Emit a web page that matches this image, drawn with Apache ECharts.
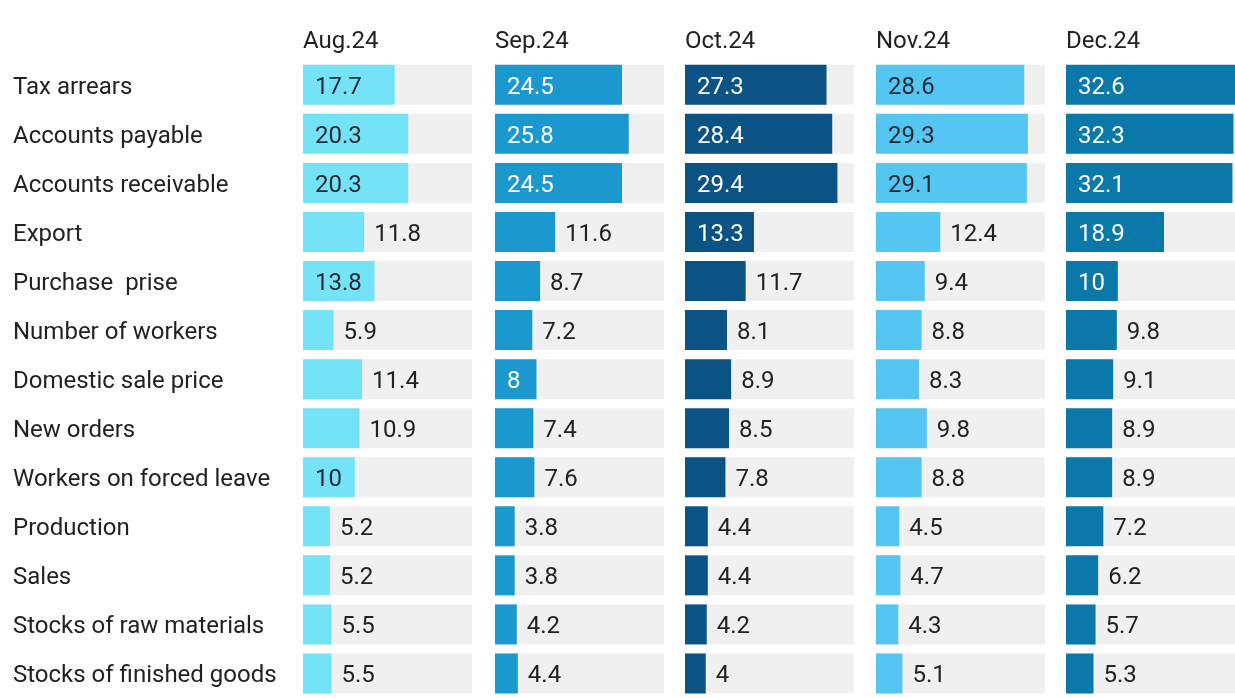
<!DOCTYPE html>
<html>
<head>
<meta charset="utf-8">
<script src="https://cdn.jsdelivr.net/npm/echarts@6/dist/echarts.min.js"></script>
<style>
  html, body { margin: 0; padding: 0; background: #fff; }
  #chart { width: 1235px; height: 698px; }
</style>
</head>
<body>
<div id="chart"></div>
<script>
  const categories = ['Tax arrears','Accounts payable','Accounts receivable','Export','Purchase  prise',
    'Number of workers','Domestic sale price','New orders','Workers on forced leave','Production',
    'Sales','Stocks of raw materials','Stocks of finished goods'];
  const months = ['Aug.24','Sep.24','Oct.24','Nov.24','Dec.24'];
  const aug = [17.7, 20.3, 20.3, 11.8, 13.8, 5.9, 11.4, 10.9, 10, 5.2, 5.2, 5.5, 5.5];
  const sep = [24.5, 25.8, 24.5, 11.6, 8.7, 7.2, 8, 7.4, 7.6, 3.8, 3.8, 4.2, 4.4];
  const oct = [27.3, 28.4, 29.4, 13.3, 11.7, 8.1, 8.9, 8.5, 7.8, 4.4, 4.4, 4.2, 4];
  const nov = [28.6, 29.3, 29.1, 12.4, 9.4, 8.8, 8.3, 9.8, 8.8, 4.5, 4.7, 4.3, 5.1];
  const dec = [32.6, 32.3, 32.1, 18.9, 10, 9.8, 9.1, 8.9, 8.9, 7.2, 6.2, 5.7, 5.3];
  const xMax = 32.6;

  const panelValues = [aug, sep, oct, nov, dec];
  const colors = ['#74e3f8', '#1b99cf', '#0a5384', '#55c6f1', '#0a78a8'];
  const insideText = ['#1d2a33', '#ffffff', '#ffffff', '#1d2a33', '#ffffff'];
  const lefts = [303, 495, 685, 876, 1066];
  const panelW = 169;
  const gridTop = 60.25;
  const panelH = 643.5;
  const font = 'Roboto';
  const fs = 24;

  // measure label text to decide if it fits inside the bar
  const ctx = document.createElement('canvas').getContext('2d');
  ctx.font = fs + 'px ' + font;
  function fits(v) {
    const px = v / xMax * panelW;
    return px >= ctx.measureText(String(v)).width + 20;
  }

  const chart = echarts.init(document.getElementById('chart'));
  const grid = [], xAxis = [], yAxis = [], series = [], title = [];

  panelValues.forEach(function (vals, i) {
    grid.push({ left: lefts[i], top: gridTop, width: panelW, height: panelH });
    xAxis.push({ gridIndex: i, type: 'value', min: 0, max: xMax, show: false });
    yAxis.push({
      gridIndex: i, type: 'category', data: categories, inverse: true,
      axisLine: { show: false }, axisTick: { show: false },
      axisLabel: {
        show: i === 0, align: 'left', margin: lefts[0] - 13,
        verticalAlign: 'top', lineHeight: 6,  // nudges text ~3px below band centre
        fontFamily: font, fontSize: fs, color: '#222'
      }
    });
    title.push({
      text: months[i], left: lefts[i], top: 30, padding: 0,
      textStyle: { fontFamily: font, fontSize: fs, fontWeight: 'normal', color: '#222' }
    });
    series.push({
      type: 'bar', xAxisIndex: i, yAxisIndex: i, barWidth: 40,
      showBackground: true,
      backgroundStyle: { color: '#f0f0f0' },
      itemStyle: { color: colors[i] },
      silent: true,
      data: vals.map(function (v) {
        const inside = fits(v);
        return {
          value: v,
          label: {
            show: true,
            position: inside ? 'insideLeft' : 'right',
            distance: inside ? 12 : 10,
            offset: [0, 3],
            color: inside ? insideText[i] : '#222',
            fontFamily: font, fontSize: fs
          }
        };
      })
    });
  });

  chart.setOption({
    animation: false,
    title: title,
    grid: grid,
    xAxis: xAxis,
    yAxis: yAxis,
    series: series
  });
</script>
</body>
</html>
